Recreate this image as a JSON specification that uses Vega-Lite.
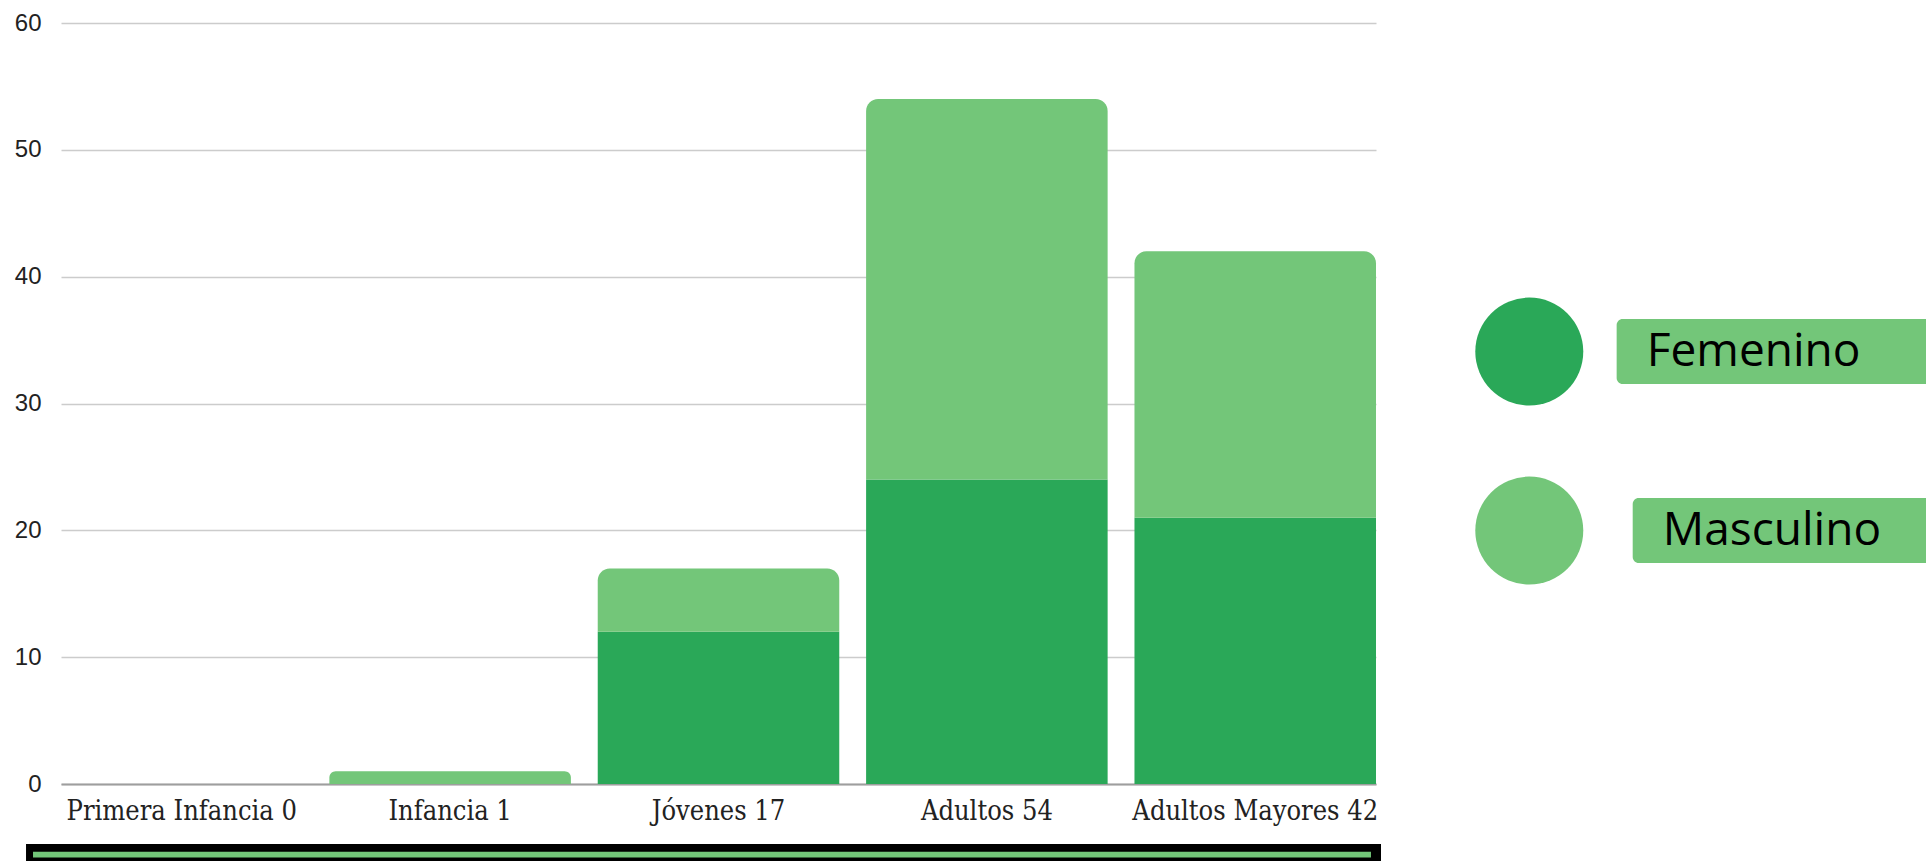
{
  "$schema": "https://vega.github.io/schema/vega-lite/v6.json",
  "background": "white",
  "padding": {"left": 14, "top": 11, "right": 0, "bottom": 0},
  "autosize": {"type": "pad"},
  "config": {"view": {"stroke": null}},
  "datasets": {
    "poblacion": [
      {"grupo": "Primera Infancia 0", "sexo": "Femenino", "valor": 0},
      {"grupo": "Primera Infancia 0", "sexo": "Masculino", "valor": 0},
      {"grupo": "Infancia 1", "sexo": "Femenino", "valor": 0},
      {"grupo": "Infancia 1", "sexo": "Masculino", "valor": 1},
      {"grupo": "Jóvenes 17", "sexo": "Femenino", "valor": 12},
      {"grupo": "Jóvenes 17", "sexo": "Masculino", "valor": 5},
      {"grupo": "Adultos 54", "sexo": "Femenino", "valor": 24},
      {"grupo": "Adultos 54", "sexo": "Masculino", "valor": 30},
      {"grupo": "Adultos Mayores 42", "sexo": "Femenino", "valor": 21},
      {"grupo": "Adultos Mayores 42", "sexo": "Masculino", "valor": 21}
    ],
    "leyenda": [
      {"sexo": "Femenino"},
      {"sexo": "Masculino"}
    ],
    "barra": [
      {"elemento": "deslizador"}
    ]
  },
  "spacing": 20,
  "vconcat": [
    {
      "spacing": 92,
      "hconcat": [
        {
          "width": 1315,
          "height": 761,
          "data": {"name": "poblacion"},
          "transform": [
            {"stack": "valor", "groupby": ["grupo"], "sort": [{"field": "sexo", "order": "ascending"}], "as": ["v0", "v1"]}
          ],
          "encoding": {
            "x": {
              "field": "grupo", "type": "nominal",
              "sort": ["Primera Infancia 0", "Infancia 1", "Jóvenes 17", "Adultos 54", "Adultos Mayores 42"],
              "scale": {"paddingInner": 0.1, "paddingOuter": 0},
              "axis": {
                "title": null, "labelAngle": 0, "ticks": false,
                "domain": true, "domainColor": "#9e9e9e", "domainWidth": 2,
                "labelFont": "DejaVu Serif Condensed", "labelFontSize": 27, "labelColor": "#222222",
                "labelPadding": 14, "labelLimit": 0, "grid": false
              }
            },
            "y": {
              "field": "v0", "type": "quantitative",
              "scale": {"domain": [0, 60], "nice": false},
              "axis": {
                "title": null, "values": [0, 10, 20, 30, 40, 50, 60],
                "domain": false, "ticks": false,
                "grid": true, "gridColor": "#cccccc", "gridWidth": 1.5,
                "labelFont": "Liberation Sans", "labelFontSize": 24, "labelColor": "#222222",
                "labelPadding": 20
              }
            },
            "y2": {"field": "v1"}
          },
          "layer": [
            {
              "transform": [{"filter": "datum.sexo === 'Femenino'"}],
              "mark": {"type": "bar", "color": "#2AA858"}
            },
            {
              "transform": [{"filter": "datum.sexo === 'Masculino'"}],
              "mark": {"type": "bar", "color": "#73C679", "cornerRadiusTopLeft": 12, "cornerRadiusTopRight": 12}
            }
          ]
        },
        {
          "width": 456,
          "height": 602,
          "data": {"name": "leyenda"},
          "encoding": {
            "y": {
              "field": "sexo", "type": "nominal",
              "scale": {"type": "band", "domain": ["Femenino", "Masculino"], "paddingInner": 0.637, "paddingOuter": 1, "align": 0.827},
              "axis": null
            }
          },
          "layer": [
            {
              "mark": {"type": "point", "shape": "circle", "filled": true, "size": 11664, "opacity": 1},
              "encoding": {
                "x": {"datum": 0.13, "type": "quantitative", "scale": {"domain": [0, 1], "nice": false, "zero": false}, "axis": null},
                "color": {"field": "sexo", "type": "nominal", "scale": {"domain": ["Femenino", "Masculino"], "range": ["#2AA858", "#73C679"]}, "legend": null}
              }
            },
            {
              "transform": [{"filter": "datum.sexo === 'Femenino'"}],
              "mark": {"type": "rect", "color": "#73C679", "cornerRadius": 6, "clip": true},
              "encoding": {"x": {"datum": 0.3216, "type": "quantitative"}, "x2": {"datum": 1.1}}
            },
            {
              "transform": [{"filter": "datum.sexo === 'Masculino'"}],
              "mark": {"type": "rect", "color": "#73C679", "cornerRadius": 6, "clip": true},
              "encoding": {"x": {"datum": 0.3568, "type": "quantitative"}, "x2": {"datum": 1.1}}
            },
            {
              "transform": [{"filter": "datum.sexo === 'Femenino'"}],
              "mark": {"type": "text", "align": "left", "baseline": "middle", "font": "Open Sans", "fontSize": 46, "color": "#000000"},
              "encoding": {"x": {"datum": 0.3877, "type": "quantitative"}, "text": {"field": "sexo"}}
            },
            {
              "transform": [{"filter": "datum.sexo === 'Masculino'"}],
              "mark": {"type": "text", "align": "left", "baseline": "middle", "font": "Open Sans", "fontSize": 46, "color": "#000000"},
              "encoding": {"x": {"datum": 0.4229, "type": "quantitative"}, "text": {"field": "sexo"}}
            }
          ]
        }
      ]
    },
    {
      "width": 1320,
      "height": 17,
      "data": {"name": "barra"},
      "layer": [
        {
          "mark": {"type": "rect", "color": "#000000"},
          "encoding": {
            "x": {"datum": -0.0265, "type": "quantitative", "scale": {"domain": [0, 1], "nice": false, "zero": false}, "axis": null},
            "x2": {"datum": 1},
            "y": {"datum": 0, "type": "quantitative", "scale": {"domain": [0, 1], "nice": false}, "axis": null},
            "y2": {"datum": 1}
          }
        },
        {
          "mark": {"type": "rect", "color": "#73C679"},
          "encoding": {
            "x": {"datum": -0.0212, "type": "quantitative"},
            "x2": {"datum": 0.9924},
            "y": {"datum": 0.2, "type": "quantitative"},
            "y2": {"datum": 0.55}
          }
        }
      ]
    }
  ]
}
